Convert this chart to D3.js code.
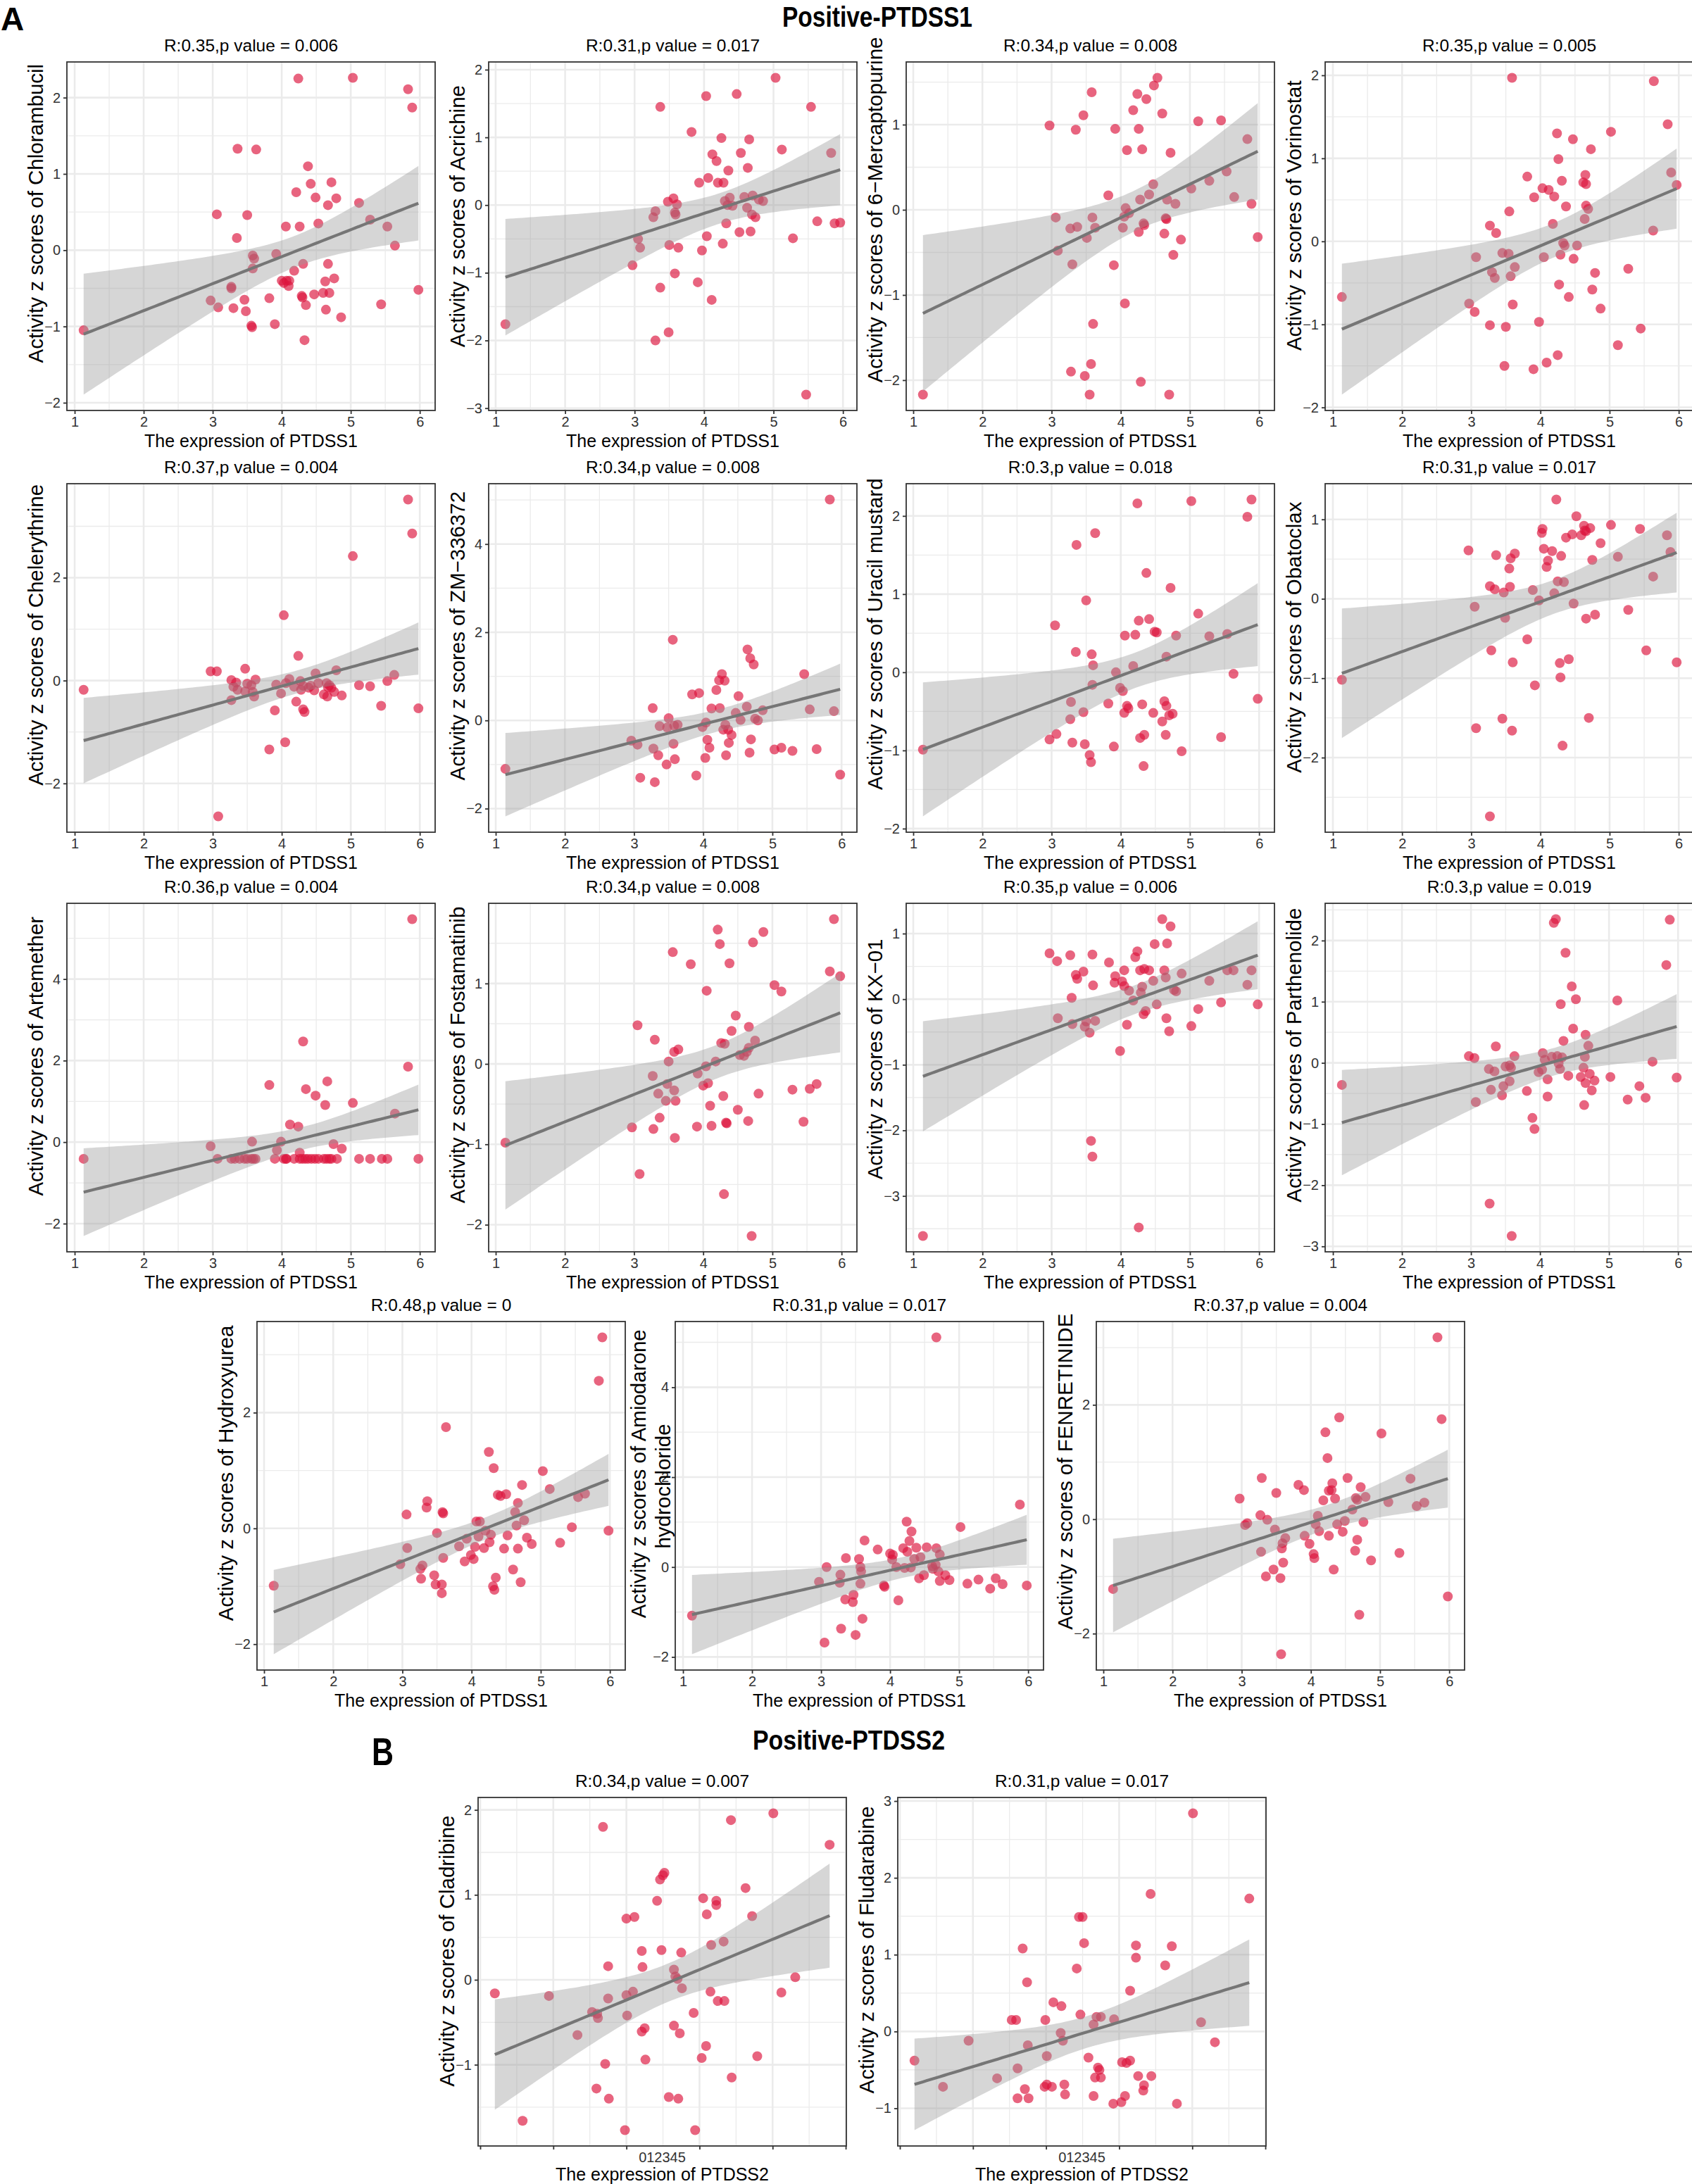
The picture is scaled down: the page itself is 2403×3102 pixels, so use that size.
<!DOCTYPE html>
<html>
<head>
<meta charset="utf-8">
<script src="https://d3js.org/d3.v7.min.js"></script>
<style>
  body { margin: 0; background: #fff; }
  text { font-family: "Liberation Sans", Arial, Helvetica, sans-serif; }
</style>
</head>
<body>
<svg id="drawing_region"></svg>
<script>
// ---- data: [expression, activity z score] per cell line ----
const chlorambucil = [[1.13,-1.05],[4.24,2.25],[5.03,2.26],[5.83,2.11],[5.89,1.87],[3.36,1.33],[3.63,1.32],[4.38,1.10],[4.42,0.87],[4.72,0.89],[4.21,0.76],[4.49,0.69],[4.79,0.68],[4.67,0.59],[5.12,0.62],[5.28,0.40],[3.06,0.47],[3.50,0.46],[4.06,0.31],[4.26,0.31],[4.53,0.35],[5.53,0.31],[3.35,0.16],[5.64,0.06],[3.58,-0.07],[3.60,-0.11],[3.92,-0.05],[3.58,-0.24],[4.31,-0.18],[4.67,-0.18],[4.18,-0.27],[3.27,-0.48],[3.27,-0.50],[4.00,-0.40],[4.07,-0.40],[4.11,-0.40],[4.03,-0.43],[4.10,-0.47],[4.63,-0.41],[4.76,-0.37],[5.98,-0.52],[2.97,-0.66],[3.08,-0.75],[3.30,-0.76],[3.46,-0.65],[3.48,-0.80],[3.82,-0.63],[4.29,-0.60],[4.30,-0.62],[4.35,-0.72],[4.47,-0.58],[4.60,-0.56],[4.69,-0.56],[4.64,-0.78],[4.86,-0.88],[5.44,-0.71],[3.56,-0.99],[3.57,-1.01],[3.90,-0.97],[4.33,-1.18]];
const acrichine = [[1.14,-1.76],[3.37,1.45],[3.82,1.08],[4.03,1.61],[4.47,1.64],[5.03,1.88],[5.54,1.45],[4.25,0.99],[4.65,0.97],[4.12,0.75],[4.18,0.65],[4.53,0.77],[5.12,0.82],[5.83,0.77],[4.35,0.51],[4.63,0.55],[4.06,0.40],[3.93,0.33],[4.20,0.33],[4.28,0.33],[3.56,0.10],[3.48,0.05],[3.61,0.01],[3.30,-0.09],[3.27,-0.18],[3.58,-0.11],[3.59,-0.14],[4.30,0.06],[4.37,0.11],[4.34,0.00],[4.41,-0.01],[4.58,0.12],[4.70,0.14],[4.79,0.08],[4.85,0.06],[4.62,-0.04],[4.69,-0.14],[4.74,-0.18],[4.32,-0.27],[4.51,-0.40],[4.67,-0.39],[4.04,-0.46],[4.27,-0.57],[3.05,-0.50],[3.08,-0.63],[3.50,-0.59],[3.63,-0.63],[3.97,-0.67],[5.28,-0.49],[5.63,-0.24],[5.88,-0.27],[5.96,-0.26],[2.97,-0.89],[3.58,-1.01],[3.91,-1.14],[4.11,-1.40],[3.37,-1.22],[3.30,-2.00],[3.49,-1.88],[5.47,-2.80]];
const mercaptopurine = [[1.14,-2.17],[4.53,1.55],[4.48,1.46],[3.58,1.38],[4.24,1.36],[4.37,1.30],[4.18,1.17],[4.60,1.13],[3.46,1.11],[2.97,0.99],[3.35,0.94],[3.92,0.95],[4.26,0.95],[5.12,1.04],[5.45,1.05],[5.83,0.83],[4.09,0.70],[4.31,0.71],[4.72,0.67],[5.53,0.45],[4.47,0.30],[5.28,0.34],[5.02,0.25],[3.82,0.17],[4.41,0.18],[4.28,0.12],[4.67,0.12],[5.64,0.15],[4.79,0.07],[5.89,0.07],[4.07,0.02],[4.12,-0.04],[3.06,-0.09],[3.59,-0.09],[4.05,-0.08],[4.65,-0.10],[4.66,-0.11],[4.33,-0.16],[4.34,-0.18],[3.27,-0.22],[3.37,-0.20],[3.63,-0.21],[4.03,-0.21],[4.26,-0.26],[4.63,-0.28],[3.51,-0.33],[4.87,-0.35],[5.98,-0.32],[3.09,-0.48],[4.76,-0.53],[3.30,-0.64],[3.90,-0.65],[4.06,-1.10],[3.60,-1.34],[3.28,-1.90],[3.57,-1.81],[3.48,-1.95],[4.29,-2.02],[3.55,-2.17],[4.70,-2.17]];
const vorinostat = [[1.13,-0.67],[3.59,1.97],[5.64,1.93],[5.84,1.41],[5.02,1.32],[4.24,1.30],[4.47,1.23],[4.73,1.11],[4.26,0.99],[3.81,0.78],[4.65,0.80],[5.89,0.83],[4.31,0.73],[4.62,0.71],[4.66,0.69],[5.97,0.68],[4.03,0.64],[4.12,0.62],[3.91,0.53],[4.20,0.54],[4.37,0.42],[4.66,0.43],[4.69,0.39],[3.55,0.36],[4.64,0.27],[3.27,0.19],[4.18,0.21],[3.36,0.10],[5.63,0.13],[4.33,-0.02],[4.35,-0.05],[4.53,-0.05],[3.45,-0.14],[3.54,-0.15],[3.07,-0.19],[4.05,-0.19],[4.29,-0.16],[4.48,-0.21],[3.63,-0.31],[3.30,-0.37],[3.34,-0.44],[3.57,-0.42],[4.79,-0.38],[5.27,-0.33],[4.27,-0.52],[4.41,-0.67],[4.75,-0.58],[4.87,-0.81],[2.97,-0.75],[3.05,-0.85],[3.60,-0.76],[3.27,-1.01],[3.50,-1.03],[3.98,-0.97],[5.45,-1.05],[5.12,-1.25],[4.25,-1.37],[4.09,-1.46],[3.48,-1.50],[3.90,-1.54]];
const chelerythrine = [[1.13,-0.18],[5.83,3.52],[5.89,2.86],[5.03,2.42],[4.03,1.27],[4.24,0.48],[2.97,0.18],[3.06,0.18],[3.47,0.23],[4.49,0.14],[4.79,0.20],[5.63,0.11],[5.53,-0.01],[5.12,-0.09],[5.28,-0.11],[3.27,0.01],[3.34,-0.04],[3.30,-0.12],[3.36,-0.18],[3.47,-0.21],[3.50,-0.06],[3.56,-0.09],[3.62,0.02],[3.58,-0.22],[3.60,-0.31],[3.27,-0.38],[3.92,-0.08],[3.99,-0.25],[4.06,-0.05],[4.11,0.03],[4.18,-0.12],[4.27,-0.01],[4.28,-0.18],[4.31,-0.10],[4.39,-0.14],[4.42,-0.10],[4.47,-0.19],[4.53,-0.05],[4.61,-0.27],[4.65,-0.05],[4.67,-0.13],[4.69,-0.09],[4.72,-0.14],[4.76,-0.22],[4.66,-0.31],[4.87,-0.29],[4.21,-0.41],[4.31,-0.56],[4.33,-0.61],[3.90,-0.58],[5.44,-0.49],[5.98,-0.54],[4.05,-1.20],[3.82,-1.34],[3.08,-2.64]];
const zm336372 = [[1.14,-1.10],[5.83,5.01],[3.56,1.83],[4.64,1.61],[4.68,1.41],[4.73,1.27],[4.27,1.05],[4.23,0.91],[4.31,0.90],[4.19,0.69],[3.84,0.59],[3.94,0.62],[4.51,0.55],[5.46,1.05],[3.27,0.28],[4.12,0.27],[4.24,0.28],[4.63,0.31],[4.47,0.17],[4.86,0.23],[5.54,0.25],[5.89,0.21],[3.50,0.05],[4.04,-0.05],[4.54,0.01],[4.75,0.04],[4.79,0.00],[3.37,-0.13],[3.48,-0.16],[3.58,-0.12],[3.63,-0.10],[3.99,-0.15],[4.32,-0.10],[4.36,-0.21],[4.29,-0.21],[4.41,-0.33],[2.96,-0.46],[3.05,-0.55],[3.57,-0.53],[4.06,-0.44],[4.09,-0.62],[4.37,-0.51],[4.69,-0.43],[3.28,-0.64],[3.35,-0.79],[3.59,-0.88],[4.03,-0.85],[4.33,-0.79],[4.67,-0.73],[5.03,-0.66],[5.13,-0.62],[5.29,-0.69],[5.64,-0.65],[3.47,-1.00],[3.09,-1.30],[3.30,-1.40],[3.90,-1.25],[5.98,-1.23]];
const uracilMustard = [[1.14,-0.99],[4.24,2.16],[5.02,2.19],[5.89,2.21],[5.83,1.99],[3.63,1.78],[3.36,1.63],[4.37,1.27],[4.72,1.08],[3.50,0.92],[5.12,0.75],[3.05,0.60],[4.26,0.66],[4.41,0.68],[4.49,0.52],[4.52,0.51],[4.06,0.47],[4.21,0.48],[4.80,0.47],[5.28,0.46],[5.54,0.49],[3.35,0.26],[3.58,0.23],[3.60,0.09],[4.66,0.20],[4.18,0.08],[3.93,0.00],[5.63,-0.02],[3.59,-0.16],[3.99,-0.20],[4.03,-0.24],[5.98,-0.34],[3.28,-0.38],[3.82,-0.40],[4.31,-0.41],[4.09,-0.43],[4.11,-0.46],[4.63,-0.37],[4.66,-0.43],[3.46,-0.51],[4.05,-0.52],[4.47,-0.52],[4.70,-0.55],[4.75,-0.53],[3.27,-0.60],[4.60,-0.63],[3.07,-0.79],[2.97,-0.86],[3.30,-0.90],[3.48,-0.92],[3.90,-0.95],[4.28,-0.84],[4.34,-0.80],[4.65,-0.80],[5.45,-0.83],[4.88,-1.01],[3.55,-1.06],[3.57,-1.15],[4.33,-1.20]];
const obatoclax = [[1.13,-1.02],[4.23,1.25],[4.52,1.04],[5.02,0.93],[5.44,0.88],[4.63,0.92],[4.72,0.89],[4.64,0.86],[4.66,0.85],[4.59,0.80],[4.46,0.81],[4.03,0.88],[4.02,0.83],[4.37,0.77],[5.83,0.80],[4.87,0.70],[4.05,0.63],[4.17,0.60],[2.96,0.61],[3.36,0.55],[3.63,0.57],[3.57,0.51],[4.30,0.54],[5.12,0.53],[5.88,0.59],[4.11,0.48],[4.75,0.49],[4.09,0.40],[3.55,0.38],[5.63,0.28],[4.25,0.22],[4.34,0.21],[3.27,0.16],[3.56,0.15],[3.34,0.12],[3.89,0.11],[3.47,0.08],[4.20,0.07],[3.98,-0.02],[4.48,-0.06],[3.05,-0.10],[5.27,-0.14],[4.79,-0.20],[3.49,-0.24],[4.66,-0.25],[3.81,-0.51],[3.29,-0.65],[5.53,-0.65],[3.60,-0.80],[4.28,-0.81],[4.41,-0.76],[5.97,-0.80],[4.29,-0.99],[3.92,-1.09],[3.45,-1.51],[4.70,-1.50],[3.07,-1.63],[3.59,-1.66],[4.32,-1.85],[3.27,-2.74]];
const artemether = [[1.13,-0.41],[5.89,5.47],[4.31,2.47],[5.83,1.85],[3.82,1.40],[4.66,1.49],[4.35,1.30],[4.49,1.14],[4.63,0.91],[5.03,0.96],[5.64,0.70],[4.12,0.43],[4.24,0.38],[3.57,0.01],[3.99,0.01],[4.75,-0.05],[4.87,-0.16],[2.97,-0.10],[3.93,-0.20],[4.26,-0.26],[3.07,-0.41],[3.27,-0.41],[3.32,-0.41],[3.39,-0.41],[3.46,-0.41],[3.50,-0.41],[3.56,-0.41],[3.59,-0.41],[3.62,-0.41],[3.90,-0.41],[4.03,-0.41],[4.06,-0.41],[4.07,-0.41],[4.18,-0.41],[4.26,-0.41],[4.30,-0.41],[4.34,-0.41],[4.38,-0.41],[4.43,-0.41],[4.48,-0.41],[4.53,-0.41],[4.61,-0.41],[4.65,-0.41],[4.69,-0.41],[4.72,-0.41],[4.80,-0.41],[5.12,-0.41],[5.28,-0.41],[5.45,-0.41],[5.53,-0.41],[5.98,-0.41]];
const fostamatinib = [[1.14,-0.98],[5.89,1.80],[4.21,1.67],[4.87,1.64],[4.24,1.49],[4.72,1.51],[3.56,1.39],[3.82,1.24],[4.38,1.25],[5.83,1.15],[5.98,1.09],[4.05,0.91],[5.03,0.98],[5.13,0.90],[4.47,0.60],[3.05,0.48],[4.41,0.41],[4.66,0.46],[3.30,0.30],[4.75,0.29],[4.26,0.26],[4.31,0.25],[3.58,0.15],[3.64,0.18],[4.66,0.20],[4.63,0.15],[4.53,0.11],[4.59,0.10],[3.50,0.03],[4.18,0.03],[4.04,-0.03],[3.27,-0.15],[3.92,-0.12],[3.48,-0.25],[4.07,-0.24],[4.00,-0.27],[3.35,-0.37],[3.58,-0.33],[3.46,-0.46],[3.60,-0.46],[4.29,-0.40],[4.80,-0.37],[5.29,-0.32],[5.54,-0.31],[5.64,-0.25],[4.10,-0.52],[4.50,-0.57],[3.37,-0.67],[2.97,-0.79],[3.28,-0.81],[3.91,-0.78],[4.12,-0.77],[4.33,-0.73],[4.34,-0.74],[4.65,-0.71],[5.45,-0.72],[3.59,-0.92],[3.08,-1.37],[4.30,-1.62],[4.70,-2.14]];
const kx01 = [[1.14,-3.61],[4.60,1.22],[4.72,1.11],[4.49,0.84],[4.67,0.85],[4.24,0.73],[4.21,0.64],[2.97,0.70],[3.08,0.58],[3.27,0.67],[3.59,0.68],[3.83,0.56],[4.05,0.44],[4.28,0.44],[4.34,0.46],[4.41,0.44],[4.63,0.44],[3.46,0.42],[4.88,0.39],[5.54,0.44],[5.63,0.44],[5.89,0.44],[3.35,0.37],[3.37,0.31],[3.92,0.35],[4.65,0.33],[4.02,0.27],[3.91,0.25],[4.47,0.28],[5.28,0.28],[3.60,0.21],[4.05,0.20],[4.31,0.19],[5.83,0.22],[4.12,0.13],[4.77,0.14],[4.80,0.12],[4.29,0.10],[3.29,0.02],[4.18,-0.02],[5.45,-0.05],[5.98,-0.08],[4.52,-0.08],[4.36,-0.18],[4.33,-0.23],[5.12,-0.15],[3.09,-0.29],[4.66,-0.29],[3.50,-0.34],[3.63,-0.33],[3.30,-0.38],[3.48,-0.42],[3.55,-0.51],[4.09,-0.39],[5.02,-0.41],[4.70,-0.49],[3.99,-0.79],[3.57,-2.16],[3.59,-2.40],[4.26,-3.48]];
const parthenolide = [[1.13,-0.36],[4.23,2.35],[4.20,2.29],[5.88,2.34],[5.83,1.60],[4.37,1.80],[4.46,1.25],[4.30,0.96],[4.52,1.04],[5.12,1.02],[4.48,0.56],[4.66,0.46],[4.34,0.36],[3.36,0.27],[4.70,0.28],[2.97,0.11],[3.05,0.08],[3.63,0.11],[4.04,0.16],[4.17,0.10],[4.25,0.11],[4.32,0.09],[4.65,0.10],[4.07,0.05],[3.50,-0.06],[3.56,-0.04],[3.26,-0.10],[3.34,-0.14],[3.58,-0.08],[4.03,-0.11],[3.98,-0.15],[4.29,-0.10],[4.27,-0.01],[4.63,-0.08],[5.63,0.02],[4.72,-0.18],[4.41,-0.21],[4.59,-0.23],[4.66,-0.33],[4.79,-0.29],[5.02,-0.23],[5.98,-0.24],[4.11,-0.27],[3.56,-0.30],[3.47,-0.38],[5.44,-0.38],[3.29,-0.44],[3.81,-0.46],[4.75,-0.45],[3.45,-0.53],[4.11,-0.55],[5.27,-0.60],[5.53,-0.57],[3.07,-0.64],[4.64,-0.69],[3.89,-0.90],[3.92,-1.08],[3.27,-2.30],[3.59,-2.83]];
const hydroxyurea = [[1.14,-0.99],[5.89,3.30],[5.84,2.55],[3.63,1.75],[4.25,1.32],[4.32,1.04],[5.03,0.99],[4.73,0.75],[5.13,0.68],[4.38,0.58],[4.42,0.56],[4.50,0.59],[5.64,0.60],[5.54,0.54],[3.36,0.47],[3.35,0.36],[4.67,0.44],[3.58,0.28],[3.59,0.26],[3.06,0.24],[4.63,0.28],[4.07,0.12],[4.12,0.12],[4.76,0.14],[4.65,0.05],[5.45,0.02],[5.98,-0.04],[3.50,-0.08],[4.20,-0.04],[4.28,-0.11],[4.10,-0.14],[4.52,-0.12],[3.93,-0.18],[4.80,-0.16],[4.26,-0.24],[4.87,-0.27],[5.28,-0.25],[3.07,-0.34],[3.82,-0.31],[4.05,-0.32],[4.18,-0.34],[4.47,-0.35],[4.67,-0.35],[3.99,-0.46],[3.59,-0.51],[4.03,-0.53],[2.97,-0.62],[3.90,-0.57],[3.29,-0.64],[3.26,-0.70],[4.60,-0.71],[3.46,-0.81],[3.27,-0.87],[4.35,-0.85],[4.71,-0.93],[3.48,-0.97],[3.57,-0.97],[4.31,-1.00],[4.33,-1.06],[3.57,-1.12]];
const amiodarone = [[1.13,-1.08],[4.67,5.11],[5.88,1.39],[4.24,1.01],[5.02,0.89],[4.31,0.79],[3.63,0.59],[4.28,0.58],[3.82,0.39],[4.19,0.42],[4.38,0.43],[4.53,0.44],[4.67,0.42],[4.25,0.34],[4.00,0.30],[4.04,0.27],[4.72,0.28],[4.44,0.22],[3.36,0.20],[3.55,0.18],[4.03,0.17],[4.35,0.18],[3.08,0.00],[3.57,0.00],[4.09,0.00],[4.21,-0.02],[4.30,-0.01],[4.61,0.02],[4.66,0.05],[3.58,-0.10],[4.62,-0.04],[4.70,-0.10],[3.28,-0.17],[4.49,-0.18],[4.80,-0.18],[3.27,-0.35],[3.57,-0.37],[2.97,-0.33],[4.42,-0.25],[4.72,-0.31],[4.86,-0.29],[5.12,-0.37],[5.28,-0.28],[5.53,-0.25],[5.63,-0.38],[3.91,-0.41],[3.92,-0.44],[5.45,-0.48],[5.98,-0.41],[3.47,-0.62],[3.35,-0.72],[3.46,-0.78],[4.12,-0.74],[3.60,-1.15],[3.29,-1.37],[3.50,-1.51],[3.05,-1.68]];
const fenretinide = [[1.14,-1.22],[5.83,3.18],[5.89,1.75],[4.41,1.78],[4.21,1.52],[5.02,1.50],[4.24,1.07],[3.29,0.72],[4.53,0.72],[5.44,0.71],[3.82,0.60],[3.90,0.51],[4.31,0.63],[4.30,0.51],[4.26,0.50],[4.72,0.56],[2.97,0.36],[3.50,0.46],[4.18,0.33],[4.35,0.36],[4.65,0.37],[4.67,0.34],[4.79,0.39],[5.12,0.30],[5.53,0.23],[5.64,0.29],[4.60,0.17],[3.27,0.07],[4.10,0.06],[3.37,-0.01],[3.08,-0.07],[3.05,-0.10],[4.07,-0.09],[4.38,-0.09],[4.49,-0.03],[4.76,-0.05],[3.48,-0.18],[4.12,-0.21],[4.46,-0.22],[3.63,-0.33],[3.91,-0.29],[4.26,-0.29],[3.59,-0.42],[3.98,-0.43],[3.58,-0.51],[4.67,-0.36],[3.28,-0.57],[4.64,-0.55],[5.28,-0.59],[4.04,-0.61],[4.05,-0.68],[3.60,-0.76],[4.87,-0.72],[3.46,-0.88],[4.33,-0.88],[3.35,-1.00],[3.56,-1.03],[5.98,-1.35],[4.70,-1.67],[3.57,-2.36]];
const cladribine = [[0.20,-0.16],[0.58,-1.66],[0.94,-0.19],[1.33,-0.65],[1.53,-0.38],[1.60,-0.40],[1.61,-0.45],[1.68,1.80],[1.75,0.16],[1.75,-0.22],[1.59,-1.28],[1.71,-0.99],[1.76,-1.40],[1.98,-1.77],[2.00,0.72],[2.11,0.74],[2.00,-0.18],[2.09,-0.14],[2.01,-0.42],[2.21,0.34],[2.22,0.15],[2.21,-0.61],[2.25,-0.57],[2.26,-0.94],[2.42,0.93],[2.46,1.18],[2.50,1.23],[2.52,1.26],[2.48,0.35],[2.65,0.12],[2.67,0.04],[2.70,0.01],[2.76,-0.10],[2.75,0.32],[2.65,-0.54],[2.73,-0.63],[2.58,-1.38],[2.71,-1.40],[2.92,-0.39],[2.94,-1.77],[3.05,0.96],[3.10,0.77],[3.23,0.93],[3.23,0.88],[3.16,0.41],[3.33,0.45],[3.15,-0.14],[3.25,-0.25],[3.34,-0.25],[3.09,-0.78],[3.03,-0.92],[3.43,1.88],[3.44,-1.15],[3.63,1.08],[3.72,0.75],[3.79,-0.90],[4.01,1.96],[4.12,-0.15],[4.31,0.03],[4.78,1.59]];
const fludarabine = [[0.20,-0.38],[0.59,-0.72],[0.94,-0.12],[1.33,-0.61],[1.53,0.15],[1.59,0.15],[1.61,-0.48],[1.68,1.08],[1.74,0.64],[1.75,-0.18],[1.71,-0.75],[1.61,-0.87],[1.76,-0.87],[1.99,0.15],[2.01,-0.32],[1.98,-0.72],[2.01,-0.69],[2.08,-0.72],[2.10,0.38],[2.21,0.33],[2.20,-0.02],[2.23,-0.12],[2.25,-0.69],[2.26,-0.82],[2.42,0.82],[2.45,1.49],[2.50,1.49],[2.52,1.15],[2.47,0.22],[2.65,0.09],[2.69,0.19],[2.75,0.19],[2.58,-0.34],[2.71,-0.47],[2.73,-0.50],[2.67,-0.60],[2.75,-0.60],[2.65,-0.84],[2.93,0.16],[2.92,-0.94],[3.03,-0.92],[3.04,-0.40],[3.10,-0.41],[3.15,-0.38],[3.08,-0.84],[3.15,0.53],[3.23,1.12],[3.23,0.96],[3.26,-0.58],[3.34,-0.70],[3.33,-0.77],[3.43,1.79],[3.44,-0.58],[3.63,0.86],[3.72,1.11],[3.79,-0.94],[4.01,2.84],[4.12,0.12],[4.31,-0.14],[4.78,1.73]];

// ---- labels ----
const drugs = ["Chlorambucil", "Acrichine", "6\u2212Mercaptopurine", "Vorinostat",
  "Chelerythrine", "ZM\u2212336372", "Uracil mustard", "Obatoclax",
  "Artemether", "Fostamatinib", "KX\u221201", "Parthenolide",
  "Hydroxyurea", "Amiodarone\nhydrochloride", "FENRETINIDE",
  "Cladribine", "Fludarabine"];
const statLabels = ["R:0.35,p value = 0.006", "R:0.31,p value = 0.017", "R:0.34,p value = 0.008", "R:0.35,p value = 0.005",
  "R:0.37,p value = 0.004", "R:0.34,p value = 0.008", "R:0.3,p value = 0.018", "R:0.31,p value = 0.017",
  "R:0.36,p value = 0.004", "R:0.34,p value = 0.008", "R:0.35,p value = 0.006", "R:0.3,p value = 0.019",
  "R:0.48,p value = 0", "R:0.31,p value = 0.017", "R:0.37,p value = 0.004",
  "R:0.34,p value = 0.007", "R:0.31,p value = 0.017"];
const genes = ["PTDSS1","PTDSS1","PTDSS1","PTDSS1","PTDSS1","PTDSS1","PTDSS1","PTDSS1",
  "PTDSS1","PTDSS1","PTDSS1","PTDSS1","PTDSS1","PTDSS1","PTDSS1","PTDSS2","PTDSS2"];
const yTickSets = [[-2,-1,0,1,2],[-3,-2,-1,0,1,2],[-2,-1,0,1],[-2,-1,0,1,2],
  [-2,0,2],[-2,0,2,4],[-2,-1,0,1,2],[-2,-1,0,1],
  [-2,0,2,4],[-2,-1,0,1],[-3,-2,-1,0,1],[-3,-2,-1,0,1,2],
  [-2,0,2],[-2,0,2,4],[-2,0,2],
  [-1,0,1,2],[-1,0,1,2,3]];
const xTicksPTDSS1 = [1,2,3,4,5,6];
const xTicksPTDSS2 = [0,1,2,3,4,5];
const squashedTickLabel = "012345";
const sectionTitles = ["Positive-PTDSS1", "Positive-PTDSS2"];
const sectionLetters = ["A", "B"];

const panelData = [chlorambucil, acrichine, mercaptopurine, vorinostat,
  chelerythrine, zm336372, uracilMustard, obatoclax,
  artemether, fostamatinib, kx01, parthenolide,
  hydroxyurea, amiodarone, fenretinide, cladribine, fludarabine];

// ---- layout (plot panel origin in page pixels) ----
const layout = [
  [95,88],[694,88],[1287,88],[1882,88],
  [95,687],[694,687],[1287,687],[1882,687],
  [95,1283],[694,1283],[1287,1283],[1882,1283],
  [365,1877],[959,1877],[1557,1877],
  [679,2553],[1275,2553]
];

const svg = d3.select('#drawing_region')
  .attr('width', 2403)
  .attr('height', 3102);

svg.append('rect').attr('width', 2403).attr('height', 3102).attr('fill', '#fff');

// t quantile (0.975) for df, Cornish-Fisher expansion
function tq975(df) {
  const z = 1.959964;
  return z + (z ** 3 + z) / (4 * df) + (5 * z ** 5 + 16 * z ** 3 + 3 * z) / (96 * df * df);
}

class ScatterPlot {

  constructor( config, data ) {
    this.config = {
      parent: config.parent,
      left: config.left,
      top: config.top,
      width: config.width || 523,
      height: config.height || 495,
      title: config.title,
      ytitle: config.ytitle,
      xtitle: config.xtitle,
      xticks: config.xticks,
      yticks: config.yticks,
      squashed: config.squashed || false
    };
    this.data = data;
    this.init();
  }

  init() {
    let self = this;
    self.chart = self.config.parent.append('g')
      .attr('transform', `translate(${self.config.left}, ${self.config.top})`);
    self.xscale = d3.scaleLinear().range([0, self.config.width]);
    self.yscale = d3.scaleLinear().range([self.config.height, 0]);
  }

  update() {
    let self = this;
    const xs = self.data.map(d => d[0]);
    const ys = self.data.map(d => d[1]);
    const n = xs.length;
    const mx = d3.mean(xs), my = d3.mean(ys);
    let sxx = 0, sxy = 0;
    for (let i = 0; i < n; i++) {
      sxx += (xs[i] - mx) ** 2;
      sxy += (xs[i] - mx) * (ys[i] - my);
    }
    const b = sxy / sxx, a = my - b * mx;
    let sse = 0;
    for (let i = 0; i < n; i++) sse += (ys[i] - a - b * xs[i]) ** 2;
    const s = Math.sqrt(sse / (n - 2));
    const t = tq975(n - 2);
    const [x0, x1] = d3.extent(xs);
    self.fit = d3.range(81).map(i => {
      const x = x0 + (x1 - x0) * i / 80;
      const f = a + b * x;
      const se = s * Math.sqrt(1 / n + (x - mx) ** 2 / sxx);
      return { x: x, y: f, lo: f - t * se, hi: f + t * se };
    });

    const ymin = Math.min(d3.min(ys), d3.min(self.fit, d => d.lo));
    const ymax = Math.max(d3.max(ys), d3.max(self.fit, d => d.hi));
    const xr = x1 - x0, yr = ymax - ymin;
    self.xscale.domain([x0 - 0.05 * xr, x1 + 0.05 * xr]);
    self.yscale.domain([ymin - 0.05 * yr, ymax + 0.05 * yr]);
    self.render();
  }

  minorBreaks(ticks, domain) {
    const step = ticks[1] - ticks[0];
    const out = [];
    for (let v = ticks[0] - step / 2; v <= ticks[ticks.length - 1] + step / 2 + 1e-9; v += step) {
      if (v > domain[0] && v < domain[1]) out.push(v);
    }
    return out;
  }

  render() {
    let self = this;
    const W = self.config.width, H = self.config.height;
    const xd = self.xscale.domain(), yd = self.yscale.domain();

    // grid
    const grid = self.chart.append('g');
    grid.selectAll('.xminor').data(self.minorBreaks(self.config.xticks, xd)).enter()
      .append('line').attr('x1', d => self.xscale(d)).attr('x2', d => self.xscale(d))
      .attr('y1', 0).attr('y2', H).attr('stroke', '#ebebeb').attr('stroke-width', 1.3);
    grid.selectAll('.yminor').data(self.minorBreaks(self.config.yticks, yd)).enter()
      .append('line').attr('y1', d => self.yscale(d)).attr('y2', d => self.yscale(d))
      .attr('x1', 0).attr('x2', W).attr('stroke', '#ebebeb').attr('stroke-width', 1.3);
    grid.selectAll('.xmajor').data(self.config.xticks.filter(v => v >= xd[0] && v <= xd[1])).enter()
      .append('line').attr('x1', d => self.xscale(d)).attr('x2', d => self.xscale(d))
      .attr('y1', 0).attr('y2', H).attr('stroke', '#ebebeb').attr('stroke-width', 2.6);
    grid.selectAll('.ymajor').data(self.config.yticks).enter()
      .append('line').attr('y1', d => self.yscale(d)).attr('y2', d => self.yscale(d))
      .attr('x1', 0).attr('x2', W).attr('stroke', '#ebebeb').attr('stroke-width', 2.6);

    // points
    self.chart.append('g').selectAll('circle')
      .data(self.data).enter()
      .append('circle')
      .attr('cx', d => self.xscale(d[0]))
      .attr('cy', d => self.yscale(d[1]))
      .attr('r', 7)
      .attr('fill', '#dc143c')
      .attr('fill-opacity', 0.66);

    // smooth: ribbon + line
    const area = d3.area()
      .x(d => self.xscale(d.x))
      .y0(d => self.yscale(d.lo))
      .y1(d => self.yscale(d.hi));
    self.chart.append('path')
      .datum(self.fit)
      .attr('d', area)
      .attr('fill', '#999999')
      .attr('fill-opacity', 0.4);
    const line = d3.line().x(d => self.xscale(d.x)).y(d => self.yscale(d.y));
    self.chart.append('path')
      .datum(self.fit)
      .attr('d', line)
      .attr('fill', 'none')
      .attr('stroke', '#767676')
      .attr('stroke-width', 4.2);

    // border
    self.chart.append('rect')
      .attr('width', W).attr('height', H)
      .attr('fill', 'none').attr('stroke', '#333').attr('stroke-width', 1.8);

    // axes
    const yAxis = d3.axisLeft(self.yscale)
      .tickValues(self.config.yticks)
      .tickSize(5).tickPadding(4)
      .tickFormat(d3.format('d'));
    const gy = self.chart.append('g').call(yAxis);
    gy.select('.domain').remove();

    const xAxis = d3.axisBottom(self.xscale)
      .tickValues(self.config.xticks)
      .tickSize(5).tickPadding(4)
      .tickFormat(self.config.squashed ? () => '' : d3.format('d'));
    const gx = self.chart.append('g')
      .attr('transform', `translate(0, ${H})`)
      .call(xAxis);
    gx.select('.domain').remove();

    [gy, gx].forEach(g => {
      g.attr('font-family', null).attr('font-size', null);
      g.selectAll('line').attr('stroke', '#333').attr('stroke-width', 1.8);
      g.selectAll('text').attr('font-size', 20).attr('fill', '#333');
    });

    if (self.config.squashed) {
      self.chart.append('text')
        .attr('x', W / 2).attr('y', H + 23)
        .attr('text-anchor', 'middle')
        .attr('font-size', 20).attr('fill', '#333')
        .text(squashedTickLabel);
    }

    // titles
    self.chart.append('text')
      .attr('x', W / 2).attr('y', -15)
      .attr('text-anchor', 'middle')
      .attr('font-size', 24.5)
      .text(self.config.title);

    self.chart.append('text')
      .attr('x', W / 2).attr('y', H + (self.config.squashed ? 49 : 52))
      .attr('text-anchor', 'middle')
      .attr('font-size', 25)
      .text(self.config.xtitle);

    const lines = self.config.ytitle.split('\n');
    const base = lines.length === 1 ? [-34] : [-42, -7];
    lines.forEach((ln, i) => {
      const t = self.chart.append('text')
        .attr('font-size', 29.5)
        .attr('text-anchor', 'start')
        .text(ln);
      const len = t.node().getComputedTextLength();
      const sy = H / 2 + len * (25 / 29.5) / 2;
      t.attr('transform', `translate(${base[i]}, ${sy}) rotate(-90)`);
    });
  }
}

panelData.forEach((data, i) => {
  const squashed = genes[i] === 'PTDSS2';
  const plot = new ScatterPlot({
    parent: svg,
    left: layout[i][0],
    top: layout[i][1],
    title: statLabels[i],
    ytitle: 'Activity z scores of ' + drugs[i],
    xtitle: 'The expression of ' + genes[i],
    xticks: squashed ? xTicksPTDSS2 : xTicksPTDSS1,
    yticks: yTickSets[i],
    squashed: squashed
  }, data);
  plot.update();
});

// section letters and headings
svg.append('text').attr('x', 1).attr('y', 43)
  .attr('font-size', 46).attr('font-weight', 'bold')
  .text(sectionLetters[0]);
svg.append('text').attr('x', 528).attr('y', 2507)
  .attr('font-size', 56).attr('font-weight', 'bold')
  .attr('textLength', 31).attr('lengthAdjust', 'spacingAndGlyphs')
  .text(sectionLetters[1]);
svg.append('text').attr('x', 1111).attr('y', 38)
  .attr('font-size', 40).attr('font-weight', 'bold')
  .attr('textLength', 270).attr('lengthAdjust', 'spacingAndGlyphs')
  .text(sectionTitles[0]);
svg.append('text').attr('x', 1069).attr('y', 2485)
  .attr('font-size', 39).attr('font-weight', 'bold')
  .attr('textLength', 273).attr('lengthAdjust', 'spacingAndGlyphs')
  .text(sectionTitles[1]);
</script>
</body>
</html>
